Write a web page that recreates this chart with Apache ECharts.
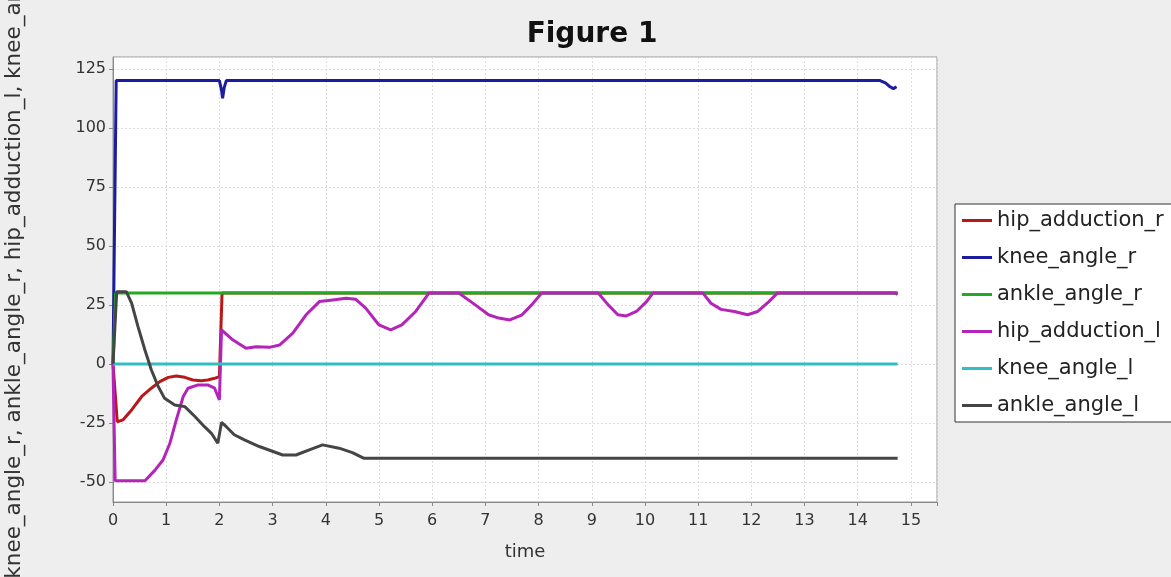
<!DOCTYPE html>
<html>
<head>
<meta charset="utf-8">
<script src="https://cdn.jsdelivr.net/npm/echarts@6/dist/echarts.min.js"></script>
<style>
html,body{margin:0;padding:0;background:#eeeeee;}
#chart{width:1171px;height:577px;}
</style>
</head>
<body>
<div id="chart"></div>
<script>
// ---- data (time [s], angle) ----
var seriesNames = ['hip_adduction_r','knee_angle_r','ankle_angle_r','hip_adduction_l','knee_angle_l','ankle_angle_l'];
var xTickLabels = [0,1,2,3,4,5,6,7,8,9,10,11,12,13,14,15];
var yTickLabels = [-50,-25,0,25,50,75,100,125];

var hipAdductionR = [[0,0],[0.08,-24.5],[0.19,-23.7],[0.35,-19.5],[0.54,-13.8],[0.72,-10.3],[0.88,-7.5],[1.04,-5.7],[1.19,-5.1],[1.35,-5.7],[1.5,-6.8],[1.66,-7.1],[1.78,-6.8],[1.91,-6.1],[2.0,-5.4],[2.05,30],[14.75,30]];
var kneeAngleR = [[0,0],[0.06,120],[2.0,120],[2.04,116],[2.06,112.5],[2.09,117],[2.13,120],[14.42,120],[14.52,119],[14.6,117.5],[14.67,116.6],[14.73,117.4]];
var ankleAngleR = [[0,0],[0.05,30],[14.75,30]];
var hipAdductionL = [[0,0],[0.04,-49.5],[0.6,-49.5],[0.79,-45],[0.94,-40.7],[1.07,-33.6],[1.19,-23.7],[1.32,-13.8],[1.41,-10.3],[1.6,-8.9],[1.78,-8.9],[1.91,-10.3],[2.0,-15.3],[2.04,14.4],[2.25,10.2],[2.5,6.6],[2.69,7.3],[2.94,7.0],[3.13,8.0],[3.38,13.0],[3.63,20.8],[3.88,26.4],[4.13,27.1],[4.38,27.8],[4.56,27.4],[4.75,23.6],[5.0,16.5],[5.22,14.4],[5.43,16.5],[5.69,22.2],[5.94,30],[6.5,30],[6.81,25],[7.06,20.8],[7.25,19.4],[7.46,18.6],[7.69,20.8],[7.87,25],[8.06,30],[9.12,30],[9.31,25],[9.49,20.8],[9.65,20.3],[9.84,22.2],[10.03,26.4],[10.15,30],[11.09,30],[11.24,25.7],[11.43,23.1],[11.68,22.2],[11.93,20.8],[12.12,22.2],[12.33,26.4],[12.49,30],[14.7,30],[14.75,29.5]];
var kneeAngleL = [[0,0],[14.75,0]];
var ankleAngleL = [[0,0],[0.07,30.6],[0.25,30.6],[0.35,25.7],[0.47,15.8],[0.6,5.9],[0.72,-2.5],[0.85,-9.6],[0.97,-14.6],[1.16,-17.4],[1.35,-18.1],[1.54,-22.3],[1.72,-26.6],[1.85,-29.4],[1.97,-33.6],[2.04,-24.8],[2.13,-26.6],[2.28,-30],[2.47,-32.2],[2.75,-35],[3.19,-38.6],[3.44,-38.6],[3.69,-36.4],[3.94,-34.3],[4.25,-35.7],[4.5,-37.6],[4.72,-40],[14.75,-40]];

var seriesData = [hipAdductionR, kneeAngleR, ankleAngleR, hipAdductionL, kneeAngleL, ankleAngleL];
var colors = ['#b81818','#1c1c9e','#22aa22','#b424b8','#30c0c4','#454545'];

var FONT = 'DejaVu Sans';
var chart = echarts.init(document.getElementById('chart'), null, {renderer:'canvas'});

var series = seriesNames.map(function(n,i){
  return {
    name:n, type:'line', data:seriesData[i], symbol:'none', animation:false,
    lineStyle:{color:colors[i], width:3}, itemStyle:{color:colors[i]}
  };
});

chart.setOption({
  backgroundColor:'#eeeeee',
  animation:false,
  color:colors,
  title:{text:'Figure 1', left:587, top:16, textAlign:'center',
    textStyle:{fontFamily:FONT, fontWeight:'bold', fontSize:28, color:'#111'}},
  grid:{left:113, right:234, top:57, bottom:75, show:true, backgroundColor:'#ffffff', borderColor:'#999', borderWidth:1,
    outerBoundsMode:'none', containLabel:false},
  legend:{
    orient:'vertical', left:955, top:204, data:seriesNames,
    icon:'rect', itemWidth:30, itemHeight:3, itemGap:16,
    backgroundColor:'#ffffff', borderColor:'#333', borderWidth:1, borderRadius:0,
    padding:[6,12,6,7],
    textStyle:{fontFamily:FONT, fontSize:21, color:'#222', lineHeight:21}
  },
  xAxis:{
    type:'value', min:0, max:15.49, interval:1,
    name:'time', nameLocation:'middle', nameGap:41,
    nameTextStyle:{fontFamily:FONT, fontSize:18, color:'#333'},
    axisLine:{show:true, onZero:false, lineStyle:{color:'#888'}},
    axisTick:{show:true, inside:false, length:4, lineStyle:{color:'#888'}},
    axisLabel:{fontFamily:FONT, fontSize:16, color:'#333', margin:11,
      formatter:function(v){ return xTickLabels.indexOf(v) >= 0 ? String(v) : ''; }},
    splitLine:{show:true, lineStyle:{color:'#dddddd', type:[2,2]}}
  },
  yAxis:{
    type:'value', min:-58.5, max:130, minInterval:25, maxInterval:25,
    name:'hip_adduction_r, knee_angle_r, ankle_angle_r, hip_adduction_l, knee_angle_l, ankle_angle_l',
    nameLocation:'middle', nameRotate:90, nameGap:88,
    nameTextStyle:{fontFamily:FONT, fontSize:21.5, color:'#333', padding:[0,0,0,16]},
    axisLine:{show:true, onZero:false, lineStyle:{color:'#888'}},
    axisTick:{show:true, inside:false, length:4, lineStyle:{color:'#888'}},
    axisLabel:{fontFamily:FONT, fontSize:16, color:'#333', margin:7, showMinLabel:false, showMaxLabel:false,
      formatter:function(v){ return yTickLabels.indexOf(v) >= 0 ? String(v) : ''; }},
    splitLine:{show:true, lineStyle:{color:'#dddddd', type:[2,2]}}
  },
  series:series
});
</script>
</body>
</html>
